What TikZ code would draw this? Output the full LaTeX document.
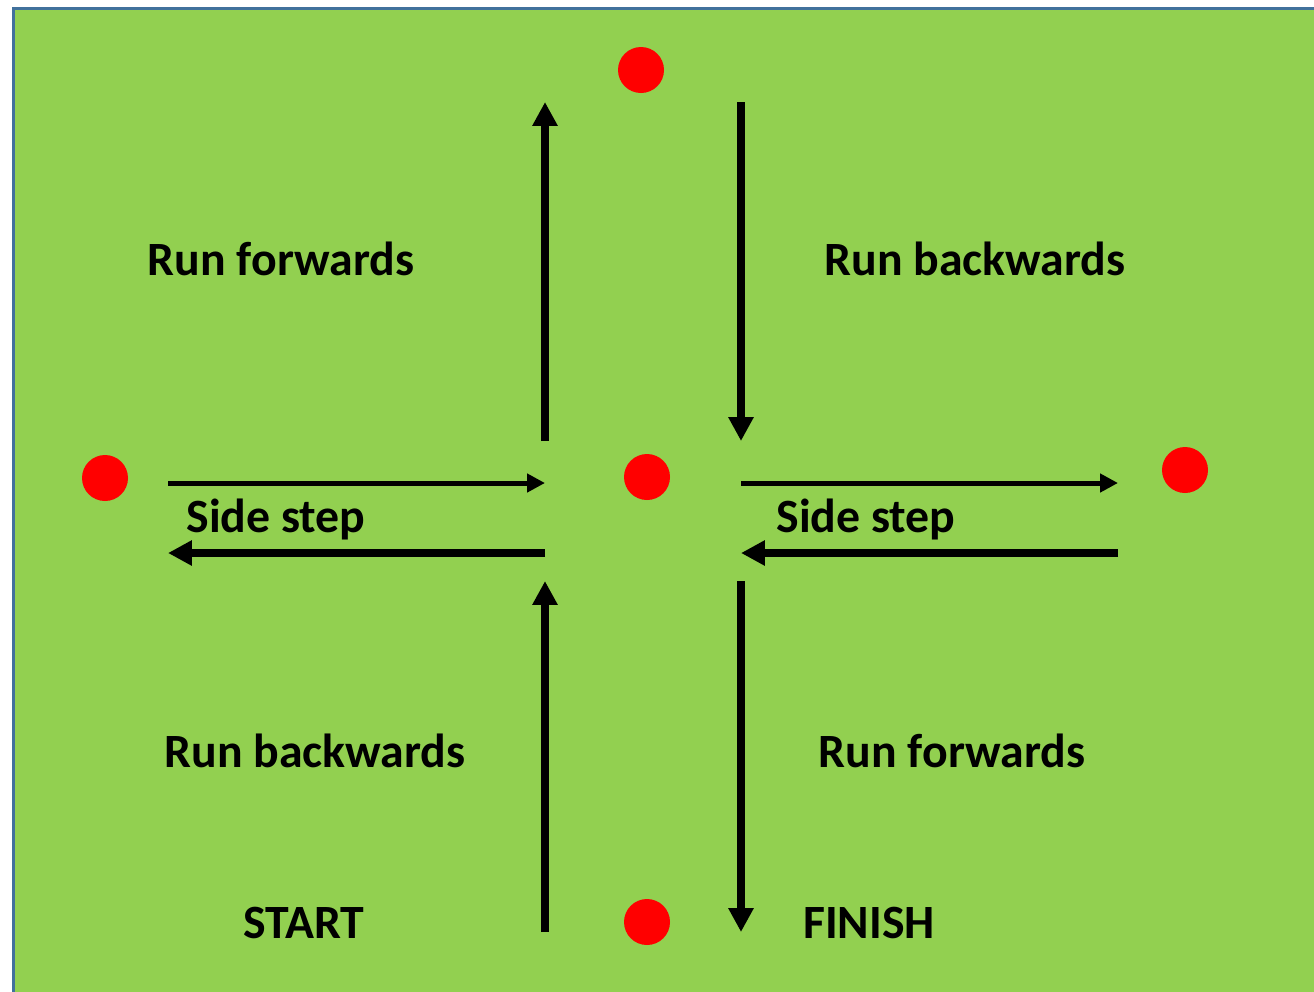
\documentclass[tikz,border=0pt]{standalone}
\usepackage{fontspec}
\setmainfont{Carlito}
\usetikzlibrary{arrows.meta}
\definecolor{field}{HTML}{92D050}
\definecolor{edge}{HTML}{41719C}
\begin{document}
\begin{tikzpicture}[x=0.02cm,y=-0.02cm,
  cone/.style={circle,fill=red,draw=none,minimum size=46*0.02cm,inner sep=0pt},
  lbl/.style={anchor=base,font=\bfseries\fontsize{27.2}{32}\selectfont,inner sep=0pt},
  heavy/.style={line width=7.5*0.5669pt,-{Triangle[length=24*0.5669pt,width=24*0.5669pt]}},
  light/.style={line width=5*0.5669pt,-{Triangle[length=18*0.5669pt,width=18*0.5669pt]}}]
\useasboundingbox (0,0) rectangle (1314,991);
\begin{scope}
  \clip (0,0) rectangle (1314,991);
  \fill[field] (13.5,8.5) rectangle (1330,1010);
  \draw[edge,line width=3*0.5669pt] (13.5,1010) -- (13.5,8.5) -- (1330,8.5);
\end{scope}

% cones
\node[cone] (top) at (641,70) {};
\node[cone] (left) at (105,478) {};
\node[cone] (mid) at (647,477) {};
\node[cone] (right) at (1185,470) {};
\node[cone] (bottom) at (647,922) {};

% arrow end points
\coordinate (a1s) at (545,441); \coordinate (a1e) at (545,102);
\coordinate (a2s) at (741,102); \coordinate (a2e) at (741,441);
\coordinate (a3s) at (168,483); \coordinate (a3e) at (545,483);
\coordinate (a4s) at (545,553); \coordinate (a4e) at (168,553);
\coordinate (a5s) at (741,483); \coordinate (a5e) at (1118,483);
\coordinate (a6s) at (1118,553); \coordinate (a6e) at (741,553);
\coordinate (a7s) at (545,932); \coordinate (a7e) at (545,581);
\coordinate (a8s) at (741,581); \coordinate (a8e) at (741,932);

\draw[heavy] (a1s) -- (a1e);
\draw[heavy] (a2s) -- (a2e);
\draw[light] (a3s) -- (a3e);
\draw[heavy] (a4s) -- (a4e);
\draw[light] (a5s) -- (a5e);
\draw[heavy] (a6s) -- (a6e);
\draw[heavy] (a7s) -- (a7e);
\draw[heavy] (a8s) -- (a8e);

% labels
\node[lbl] (t1) at (281,275) {Run forwards};
\node[lbl] (t2) at (975,275) {Run backwards};
\node[lbl] (t3) at (276,532) {Side step};
\node[lbl] (t4) at (866,532) {Side step};
\node[lbl] (t5) at (315,767) {Run backwards};
\node[lbl] (t6) at (952,767) {Run forwards};
\node[lbl] (t7) at (304,938) {START};
\node[lbl] (t8) at (869,938) {FINISH};
\end{tikzpicture}
\end{document}
